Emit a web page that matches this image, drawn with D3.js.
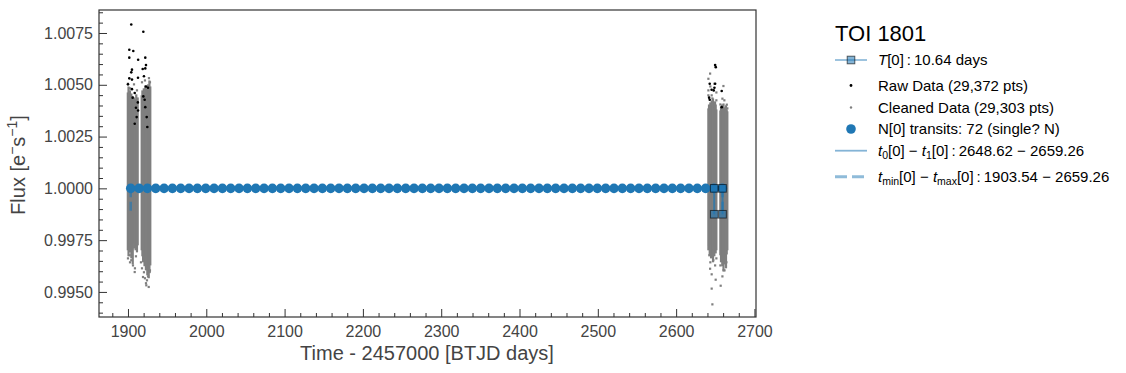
<!DOCTYPE html>
<html>
<head>
<meta charset="utf-8">
<script src="https://cdn.jsdelivr.net/npm/d3@7"></script>
<style>
  body { margin: 0; background: #fff; }
  svg text { font-family: "Liberation Sans", Arial, sans-serif; white-space: pre; }
</style>
</head>
<body>
<svg id="chart" width="1126" height="373"></svg>
<script>
// ---- data ----
const targetName = "TOI 1801";
const period = 10.64;
const xTicks = [1900, 2000, 2100, 2200, 2300, 2400, 2500, 2600, 2700];
const yTicks = [0.9950, 0.9975, 1.0000, 1.0025, 1.0050, 1.0075];

// cleaned light curve, shown as the spread of flux per time bin
const cleanTime = [
  1899.8, 1900.7, 1901.6, 1902.5, 1903.4, 1904.3, 1905.2, 1906.1, 1907.0, 1907.9, 1908.8, 1909.7, 1910.6, 1911.5, 1912.4,
  1917.5, 1918.4, 1919.3, 1920.2, 1921.1, 1922.0, 1922.9, 1923.8, 1924.7, 1925.6, 1926.5, 1927.4, 1928.5,
  2641.2, 2642.0, 2642.9, 2643.7, 2644.6, 2645.4, 2646.3, 2647.1, 2648.0, 2648.8, 2649.7, 2650.5, 2651.4,
  2656.5, 2657.3, 2658.1, 2658.9, 2659.7, 2660.5, 2661.3, 2662.1, 2662.9, 2663.7, 2664.6, 2665.4
];
const cleanHigh = [
  1.00463, 1.00492, 1.00449, 1.00473, 1.00434, 1.00458, 1.00425, 1.00444, 1.00415, 1.00439, 1.00401, 1.00430, 1.00454, 1.00425, 1.00439,
  1.00449, 1.00473, 1.00434, 1.00483, 1.00463, 1.00497, 1.00454, 1.00483, 1.00473, 1.00502, 1.00478, 1.00521, 1.00492,
  1.00386, 1.00405, 1.00376, 1.00415, 1.00396, 1.00425, 1.00401, 1.00434, 1.00410, 1.00391, 1.00420, 1.00405, 1.00381,
  1.00376, 1.00396, 1.00367, 1.00405, 1.00386, 1.00410, 1.00376, 1.00391, 1.00367, 1.00401, 1.00381, 1.00372
];
const cleanLow = [
  0.99701, 0.99672, 0.99710, 0.99691, 0.99720, 0.99662, 0.99701, 0.99633, 0.99730, 0.99710, 0.99739, 0.99701, 0.99720, 0.99691, 0.99725,
  0.99701, 0.99672, 0.99643, 0.99662, 0.99624, 0.99653, 0.99604, 0.99633, 0.99580, 0.99614, 0.99566, 0.99595, 0.99628,
  0.99701, 0.99720, 0.99677, 0.99710, 0.99662, 0.99730, 0.99691, 0.99643, 0.99706, 0.99672, 0.99715, 0.99686, 0.99701,
  0.99677, 0.99643, 0.99662, 0.99624, 0.99672, 0.99604, 0.99653, 0.99633, 0.99662, 0.99614, 0.99681, 0.99701
];
// scattered cleaned points outside the dense band
const looseTime = [1926.8, 1900.0, 1926.5, 1923.4, 1902.2, 1908.6, 1923.4, 1926.5, 1904.2, 1919.2, 1927.7,
  1917.9, 1920.4, 1921.7, 1924.3, 1925.6, 1928.1, 1916.6, 1923.0, 1900.0, 1902.6, 1906.4, 1908.9, 1910.2, 1905.1,
  1902.6, 1907.7, 1911.5, 1917.9, 1921.7, 1928.1,
  2643.4, 2641.2, 2648.9, 2660.4, 2664.7, 2659.1, 2641.2, 2645.4,
  2641.2, 2646.3, 2651.4, 2656.5, 2661.6, 2665.4, 2643.7, 2651.4,
  2645.4, 2650.5, 2645.4, 2656.9, 2646.3, 2643.4, 2661.8, 2649.8,
  2642.4, 2647.5, 2651.4, 2656.5, 2660.4, 2664.2, 2643.7, 2659.1];
const looseFlux = [1.00532, 1.00505, 1.00494, 1.00489, 0.99677, 0.99596, 0.99532, 0.99524, 0.99653, 0.99572, 0.99596,
  0.99614, 0.99595, 0.99566, 0.99556, 0.99575, 0.99604, 0.99643, 0.99542, 0.99662, 0.99643, 0.99628, 0.99614, 0.99672, 0.99677,
  1.00483, 1.00502, 1.00473, 1.00512, 1.00521, 1.00512,
  1.00554, 1.00529, 1.00505, 1.00494, 1.00404, 1.00433, 1.00473, 1.00449,
  1.00449, 1.00434, 1.00425, 1.00405, 1.00425, 1.00386, 1.00492, 1.00463,
  0.99585, 0.99559, 0.99516, 0.99530, 0.99440, 0.99612, 0.99604, 0.99628,
  0.99677, 0.99653, 0.99662, 0.99628, 0.99604, 0.99643, 0.99643, 0.99575];
// raw points removed by the cleaning
const rawTime = [1904.2, 1919.6, 1901.7, 1906.8, 1901.7, 1913.0, 1922.1, 1905.1, 1904.2, 1918.8, 1922.1, 1923.0,
  1901.7, 1905.1, 1912.8, 1920.4, 1900.0, 1905.1, 1923.0, 1925.6, 1908.6, 1912.6, 1919.6, 1921.3,
  1910.2, 1922.1, 1912.9, 1923.9, 1911.1, 1908.6, 1924.7, 1906.0,
  2649.8, 2650.6, 2642.9, 2649.8, 2645.3, 2648.0, 2658.2, 2642.1, 2642.9, 2658.2, 2648.9];
const rawFlux = [1.00791, 1.00756, 1.00669, 1.00663, 1.00631, 1.00621, 1.00631, 1.00573, 1.00560, 1.00576, 1.00579, 1.00595,
  1.00531, 1.00525, 1.00534, 1.00541, 1.00502, 1.00479, 1.00492, 1.00486, 1.00460, 1.00415, 1.00444, 1.00428,
  1.00389, 1.00392, 1.00376, 1.00344, 1.00344, 1.00312, 1.00296, 1.00438,
  1.00595, 1.00585, 1.00505, 1.00505, 1.00476, 1.00473, 1.00470, 1.00438, 1.00428, 1.00392, 1.00486];

// predicted transit epochs (72)
const transitTimes = [
  1903.54, 1914.18, 1924.82, 1935.46, 1946.10, 1956.74, 1967.38, 1978.02, 1988.66, 1999.30,
  2009.94, 2020.58, 2031.22, 2041.86, 2052.50, 2063.14, 2073.78, 2084.42, 2095.06, 2105.70,
  2116.34, 2126.98, 2137.62, 2148.26, 2158.90, 2169.54, 2180.18, 2190.82, 2201.46, 2212.10,
  2222.74, 2233.38, 2244.02, 2254.66, 2265.30, 2275.94, 2286.58, 2297.22, 2307.86, 2318.50,
  2329.14, 2339.78, 2350.42, 2361.06, 2371.70, 2382.34, 2392.98, 2403.62, 2414.26, 2424.90,
  2435.54, 2446.18, 2456.82, 2467.46, 2478.10, 2488.74, 2499.38, 2510.02, 2520.66, 2531.30,
  2541.94, 2552.58, 2563.22, 2573.86, 2584.50, 2595.14, 2605.78, 2616.42, 2627.06, 2637.70,
  2648.34, 2658.98
];
const transitFlux = 1.0;
const pairTimes = [2648.62, 2659.26];   // t0, t1
const rangeTimes = [1903.54, 2659.26];  // tmin, tmax
const markTop = 1.0, markBottom = 0.99875;

const legendLabels = [
  [{t: "T", it: true}, {t: "[0]\u2009:\u200910.64 days"}],
  [{t: "Raw Data (29,372 pts)"}],
  [{t: "Cleaned Data (29,303 pts)"}],
  [{t: "N[0] transits: 72 (single? N)"}],
  [{t: "t", it: true}, {t: "0", sub: true}, {t: "[0] − "}, {t: "t", it: true}, {t: "1", sub: true}, {t: "[0]\u2009:\u20092648.62 − 2659.26"}],
  [{t: "t", it: true}, {t: "min", sub: true}, {t: "[0] − "}, {t: "t", it: true}, {t: "max", sub: true}, {t: "[0]\u2009:\u20091903.54 − 2659.26"}]
];

// ---- drawing ----
const blue = "#1f77b4", grey = "#7f7f7f", ink = "#444";
const margin = {top: 10, left: 99},
  width = 657,
  height = 307;

const root = d3.select("#chart");
const svg = root.append("g").attr("transform", `translate(${margin.left},${margin.top})`);

const x = d3.scaleLinear().domain([1863, 2702]).range([0, width]);
const y = d3.scaleLinear().domain([0.99379, 1.00861]).range([height, 0]);

// axes with inward ticks
const xMinor = d3.range(1880, 2701, 20).filter(v => v % 100 !== 0);
const yMinor = d3.range(0.9940, 1.0086, 0.0005).filter(v => Math.abs(v * 400 - Math.round(v * 400)) > 1e-6);

svg.append("g").attr("transform", `translate(0,${height})`)
  .call(d3.axisBottom(x).tickValues(xMinor).tickFormat("").tickSizeInner(-4).tickSizeOuter(0));
svg.append("g").attr("transform", `translate(0,${height})`)
  .call(d3.axisBottom(x).tickValues(xTicks).tickFormat(d3.format("d")).tickSizeInner(-8).tickSizeOuter(0).tickPadding(9));
svg.append("g")
  .call(d3.axisLeft(y).tickValues(yMinor).tickFormat("").tickSizeInner(-4).tickSizeOuter(0));
svg.append("g")
  .call(d3.axisLeft(y).tickValues(yTicks).tickFormat(d3.format(".4f")).tickSizeInner(-8).tickSizeOuter(0).tickPadding(6));

svg.selectAll(".domain").remove();
svg.selectAll(".tick line").attr("stroke", "#333").attr("stroke-width", 1);
svg.selectAll(".tick text")
  .style("font-size", "16px")
  .attr("fill", ink);

// frame
svg.append("rect")
  .attr("width", width).attr("height", height)
  .attr("fill", "none").attr("stroke", "#333").attr("stroke-width", 1.2);

const plot = svg.append("g");

// cleaned data
plot.selectAll(".clean")
  .data(cleanTime)
  .enter().append("line")
  .attr("x1", d => x(d)).attr("x2", d => x(d))
  .attr("y1", (d, i) => y(cleanLow[i]))
  .attr("y2", (d, i) => y(cleanHigh[i]))
  .attr("stroke", grey)
  .attr("stroke-width", 2.2);

plot.selectAll(".loose")
  .data(looseTime)
  .enter().append("rect")
  .attr("x", d => x(d) - 1.1)
  .attr("y", (d, i) => y(looseFlux[i]) - 1.1)
  .attr("width", 2.2).attr("height", 2.2)
  .attr("fill", grey);

// raw outliers
plot.selectAll(".raw")
  .data(rawTime)
  .enter().append("circle")
  .attr("cx", d => x(d))
  .attr("cy", (d, i) => y(rawFlux[i]))
  .attr("r", 1.3)
  .attr("fill", "#000");

// transit epochs
plot.selectAll(".transit")
  .data(transitTimes)
  .enter().append("circle")
  .attr("cx", d => x(d))
  .attr("cy", y(transitFlux))
  .attr("r", 4.8)
  .attr("fill", blue);

// tmin / tmax dashed markers
plot.selectAll(".range")
  .data(rangeTimes)
  .enter().append("line")
  .attr("x1", d => x(d)).attr("x2", d => x(d))
  .attr("y1", y(markTop)).attr("y2", y(markBottom))
  .attr("stroke", blue).attr("stroke-opacity", 0.6)
  .attr("stroke-width", 2.5)
  .attr("stroke-dasharray", "9,4.5");

// t0 / t1 markers
plot.selectAll(".pair")
  .data(pairTimes)
  .enter().append("line")
  .attr("x1", d => x(d)).attr("x2", d => x(d))
  .attr("y1", y(markTop)).attr("y2", y(markBottom))
  .attr("stroke", blue).attr("stroke-opacity", 0.7)
  .attr("stroke-width", 2);

[markTop, markBottom].forEach(f => {
  plot.selectAll(null)
    .data(pairTimes)
    .enter().append("rect")
    .attr("x", d => x(d) - 3.8)
    .attr("y", y(f) - 3.8)
    .attr("width", 7.6).attr("height", 7.6)
    .attr("fill", blue).attr("fill-opacity", 0.6)
    .attr("stroke", "#000").attr("stroke-opacity", 0.6)
    .attr("stroke-width", 1);
});

// axis labels
root.append("text")
  .attr("x", 427).attr("y", 360)
  .attr("text-anchor", "middle")
  .style("font-size", "20px")
  .attr("fill", ink)
  .text("Time - 2457000 [BTJD days]");

function addParts(sel, parts, size) {
  let shift = 0;
  parts.forEach(p => {
    const target = p.sup ? -0.38 * size : p.sub ? 0.22 * size : 0;
    const ts = sel.append("tspan").attr("dy", target - shift).text(p.t);
    shift = target;
    if (p.sup || p.sub) ts.style("font-size", (size * 0.7) + "px");
    if (p.it) ts.style("font-style", "italic");
  });
}

const yLabel = root.append("text")
  .attr("transform", "translate(25,165) rotate(-90)")
  .attr("text-anchor", "middle")
  .style("font-size", "20px")
  .attr("fill", ink);
addParts(yLabel, [{t: "Flux [e"}, {t: "−", sup: true}, {t: "s"}, {t: "−1", sup: true}, {t: "]"}], 20);

// legend
const legend = root.append("g");
legend.append("text")
  .attr("x", 835).attr("y", 41)
  .style("font-size", "22px")
  .attr("fill", "#000")
  .text(targetName);

const rows = [60, 85.5, 107.5, 129, 150.7, 176.7];
const hx0 = 835, hx1 = 867, hc = 851, tx = 878;

legend.append("line").attr("x1", hx0).attr("x2", hx1).attr("y1", rows[0]).attr("y2", rows[0])
  .attr("stroke", blue).attr("stroke-opacity", 0.55).attr("stroke-width", 1.6);
legend.append("rect").attr("x", hc - 3.8).attr("y", rows[0] - 3.8).attr("width", 7.6).attr("height", 7.6)
  .attr("fill", blue).attr("fill-opacity", 0.55).attr("stroke", "#000").attr("stroke-opacity", 0.6);
legend.append("circle").attr("cx", hc).attr("cy", rows[1]).attr("r", 1.4).attr("fill", "#000");
legend.append("circle").attr("cx", hc).attr("cy", rows[2]).attr("r", 1.2).attr("fill", grey);
legend.append("circle").attr("cx", hc).attr("cy", rows[3]).attr("r", 4.8).attr("fill", blue);
legend.append("line").attr("x1", hx0).attr("x2", hx1).attr("y1", rows[4]).attr("y2", rows[4])
  .attr("stroke", blue).attr("stroke-opacity", 0.55).attr("stroke-width", 1.8);
legend.append("line").attr("x1", hx0).attr("x2", hx1).attr("y1", rows[5]).attr("y2", rows[5])
  .attr("stroke", blue).attr("stroke-opacity", 0.5).attr("stroke-width", 3)
  .attr("stroke-dasharray", "12,5");

legendLabels.forEach((parts, i) => {
  const t = legend.append("text")
    .attr("x", tx).attr("y", rows[i] + 5)
    .style("font-size", "15px")
    .attr("fill", "#000");
  addParts(t, parts, 15);
});
</script>
</body>
</html>
